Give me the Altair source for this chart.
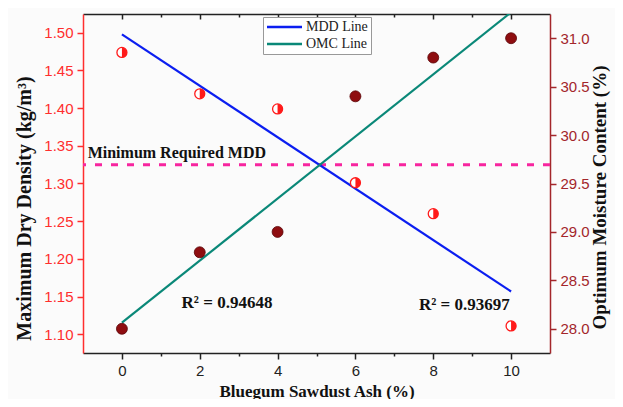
import altair as alt
import pandas as pd

# ---- data ----
ash = [0, 2, 4, 6, 8, 10]
mdd = [1.474, 1.419, 1.399, 1.301, 1.260, 1.111]
omc = [28.00, 28.79, 29.00, 30.40, 30.80, 31.00]
min_mdd = [1.325]
min_label = ["Minimum Required MDD"]
min_label_x = [-0.88]
min_label_y = [1.340]
r2_labels = ["R\u00b2 = 0.94648", "R\u00b2 = 0.93697"]
r2_x = [2.7, 8.8]
r2_y = [1.141, 1.139]
series_names = ["MDD Line", "OMC Line"]
x_ticks = [0, 1, 2, 3, 4, 5, 6, 7, 8, 9, 10]
mdd_ticks = [1.10, 1.15, 1.20, 1.25, 1.30, 1.35, 1.40, 1.45, 1.50]
omc_ticks = [28.0, 28.5, 29.0, 29.5, 30.0, 30.5, 31.0]

X_DOM = [-1, 11]
MDD_DOM = [1.075, 1.525]
OMC_DOM = [27.75, 31.25]

LEFT_C = "#ff2e2e"
RIGHT_C = "#a3262b"
SERIF = "Liberation Serif"
SANS = "Liberation Sans"

df = pd.DataFrame({"ash": ash, "mdd": mdd, "omc": omc})
rule_df = pd.DataFrame({"mdd": min_mdd})
min_df = pd.DataFrame({"ash": min_label_x, "mdd": min_label_y, "label": min_label})
r2_df = pd.DataFrame({"ash": r2_x, "mdd": r2_y, "label": r2_labels})

tick_expr = {"expr": "datum.value % 2 === 0 ? 6 : 3"}
tick_expr_in = {"expr": "datum.value % 2 === 0 ? -5 : -3"}

x_bottom = alt.X(
    "ash:Q",
    scale=alt.Scale(domain=X_DOM, nice=False, zero=False),
    axis=alt.Axis(
        values=x_ticks,
        labelExpr="datum.value % 2 === 0 ? datum.label : ''",
        grid=False,
        domainColor="#222",
        domainWidth=1.5,
        tickColor="#222",
        tickWidth=1.5,
        tickSize=tick_expr,
        labelFont=SANS,
        labelFontSize=15,
        labelColor="#222",
        labelPadding=4,
        titleFont=SERIF,
        titleFontSize=17,
        titleFontWeight="bold",
        titleColor="#111",
        titlePadding=5,
    ),
    title="Bluegum Sawdust Ash (%)",
)

x_top = alt.X(
    "ash:Q",
    scale=alt.Scale(domain=X_DOM, nice=False, zero=False),
    axis=alt.Axis(
        orient="top",
        values=x_ticks,
        labels=False,
        grid=False,
        domainColor="#222",
        domainWidth=1.5,
        tickColor="#222",
        tickWidth=1.5,
        tickSize=tick_expr_in,
        title=None,
    ),
)

y_left = alt.Y(
    "mdd:Q",
    scale=alt.Scale(domain=MDD_DOM, nice=False, zero=False),
    axis=alt.Axis(
        values=mdd_ticks,
        format=".2f",
        grid=False,
        domainColor=LEFT_C,
        domainWidth=1.5,
        tickColor=LEFT_C,
        tickWidth=1.5,
        tickSize=6,
        labelFont=SANS,
        labelFontSize=15,
        labelColor=LEFT_C,
        labelPadding=4,
        titleFont=SERIF,
        titleFontSize=20,
        titleFontWeight="bold",
        titleColor="#111",
        titlePadding=9,
        titleY=194,
    ),
    title="Maximum Dry Density (kg/m\u00b3)",
)

y_right = alt.Y(
    "omc:Q",
    scale=alt.Scale(domain=OMC_DOM, nice=False, zero=False),
    axis=alt.Axis(
        orient="right",
        values=omc_ticks,
        format=".1f",
        grid=False,
        domainColor=RIGHT_C,
        domainWidth=1.5,
        tickColor=RIGHT_C,
        tickWidth=1.5,
        tickSize=6,
        labelFont=SANS,
        labelFontSize=15,
        labelColor=RIGHT_C,
        labelPadding=4,
        titleFont=SERIF,
        titleFontSize=19,
        titleFontWeight="bold",
        titleColor="#111",
        titleAngle=270,
        titlePadding=20,
        titleY=183,
    ),
    title="Optimum Moisture Content (%)",
)

color = alt.Color(
    "series:N",
    scale=alt.Scale(domain=series_names, range=["#0b1ef0", "#0a8878"]),
    legend=alt.Legend(title=None),
)

base = alt.Chart(df)

# ---- left (MDD) group ----
mdd_line = (
    base.transform_regression("ash", "mdd")
    .transform_calculate(series="'MDD Line'")
    .mark_line(strokeWidth=2.2, clip=True)
    .encode(x=x_bottom, y=y_left, color=color)
)
mdd_ring = base.mark_point(
    shape="circle", size=100, filled=True, fill="white", stroke="#ff1a1a", strokeWidth=1.3, opacity=1
).encode(x=x_bottom, y=y_left)
mdd_half = base.mark_point(
    shape="M0,-1 A1,1 0 0,1 0,1 Z", size=100, filled=True, fill="#ff1a1a", strokeWidth=0, opacity=1
).encode(x=x_bottom, y=y_left)
min_rule = alt.Chart(rule_df).mark_rule(
    color="#f7259f", strokeWidth=3, strokeDash=[7, 9]
).encode(y=y_left)
min_text = alt.Chart(min_df).mark_text(
    align="left", baseline="middle", font=SERIF, fontSize=16, fontWeight="bold", color="#111"
).encode(x=x_bottom, y=y_left, text="label:N")
r2_text = alt.Chart(r2_df).mark_text(
    align="center", baseline="middle", font=SERIF, fontSize=17, fontWeight="bold", color="#111"
).encode(x=x_bottom, y=y_left, text="label:N")

left = alt.layer(min_rule, mdd_line, mdd_ring, mdd_half, min_text, r2_text)

# ---- right (OMC) group ----
omc_line = (
    base.transform_regression("ash", "omc")
    .transform_calculate(series="'OMC Line'")
    .mark_line(strokeWidth=2.2, clip=True)
    .encode(x=x_top, y=y_right, color=color)
)
omc_pts = base.mark_point(
    shape="circle", size=120, filled=True, fill="#8e0d10", stroke="#5a0508", strokeWidth=0.8, opacity=1
).encode(x=x_top, y=y_right)

right = alt.layer(omc_line, omc_pts)

chart = (
    alt.layer(left, right)
    .resolve_scale(y="independent", x="independent")
    .properties(
        width=467,
        height=339,
        autosize=alt.AutoSizeParams(type="none"),
        padding={"left": 75, "top": 6, "right": 65, "bottom": 46},
        background="#fbfbfb",
    )
    .configure_view(stroke=None)
    .configure_legend(
        orient="none",
        legendX=180,
        legendY=3,
        strokeColor="#999",
        fillColor="#ffffff",
        padding=3,
        labelFont=SERIF,
        labelFontSize=14,
        labelColor="#222",
        symbolType="M-6.4,0L0.6,0",
        symbolSize=100,
        symbolStrokeWidth=2.5,
        symbolOffset=26,
        rowPadding=3,
        labelOffset=0,
    )
)

chart.save("out.html", embed_options={"renderer": "svg", "actions": False})
